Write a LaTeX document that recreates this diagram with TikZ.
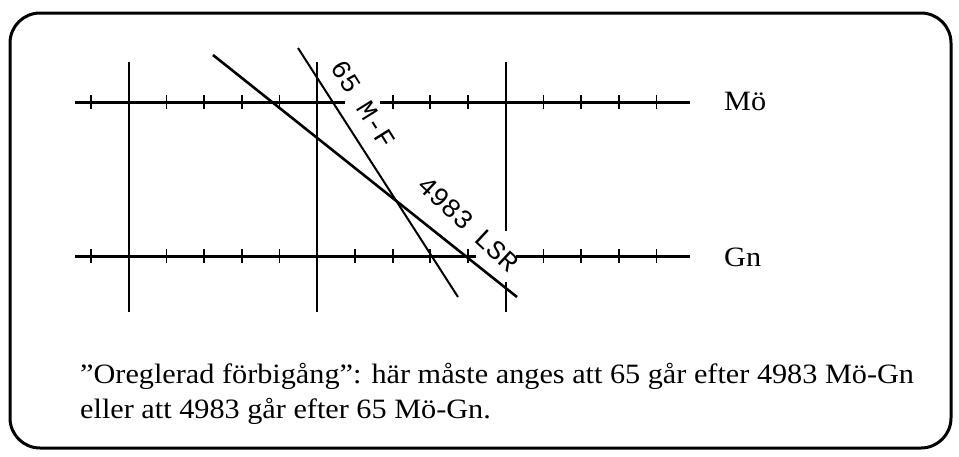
\documentclass[tikz,border=0pt]{standalone}
\usepackage{fontspec}
\setmainfont{Liberation Serif}
\newfontfamily\plotfont{Liberation Mono}
\newcommand{\wide}[1]{\scalebox{1.08}[1]{#1}}
\begin{document}
\begin{tikzpicture}[x=1pt,y=-1pt,
  frame/.style={line width=3pt, rounded corners=30pt},
  track/.style={line width=3pt},
  gridline/.style={line width=2pt},
  tickmark/.style={line width=1.8pt},
  trainthick/.style={line width=2.6pt},
  trainthin/.style={line width=2pt},
  lbl/.style={font=\fontsize{28}{32}\selectfont, inner sep=0pt, anchor=west},
  plot/.style={font=\plotfont\fontsize{27}{30}\selectfont, inner sep=0pt}]
\useasboundingbox (0,0) rectangle (959,456);
\draw[frame] (10,13) rectangle (951,448);
% stations
\draw[track] (75,102) -- (345,102);
\draw[track] (380,102) -- (690,102);
\draw[track] (75,256) -- (476,256);
\draw[track] (516,256) -- (690,256);
\foreach \k in {0,2,3,4,5,8,9,10,12,13,14,15}
  \draw[tickmark] ({91+37.7*\k},95) -- ++(0,14);
\foreach \k in {0,2,3,4,5,7,8,9,10,12,13,14,15}
  \draw[tickmark] ({91+37.7*\k},249) -- ++(0,14);
% hour lines
\draw[gridline] (128.7,62) -- (128.7,312);
\draw[gridline] (317.2,62) -- (317.2,312);
\draw[gridline] (505.7,62) -- (505.7,231);
\draw[gridline] (505.7,282) -- (505.7,312);
% trains
\coordinate (a1) at (213,55);
\coordinate (a2) at (517,297);
\coordinate (b1) at (298,48);
\coordinate (b2) at (458,297);
\draw[trainthick] (a1) -- (a2);
\draw[trainthin] (b1) -- (b2);
\node[plot, rotate=-58] (t65) at (363,104) {65 M-F};
\node[plot, rotate=-43] (t4983) at (468,224) {4983\hspace{13pt}LSR};
% station names
\node[lbl] (mo) at (724,101) {\wide{Mö}};
\node[lbl] (gn) at (724,257) {\wide{Gn}};
% caption
\node[lbl] (c1) at (80,376) {\wide{”Oreglerad förbigång”: här måste anges att 65 går efter 4983 Mö-Gn}};
\node[lbl] (c2) at (80,411) {\wide{eller att 4983 går efter 65 Mö-Gn.}};
\end{tikzpicture}
\end{document}
